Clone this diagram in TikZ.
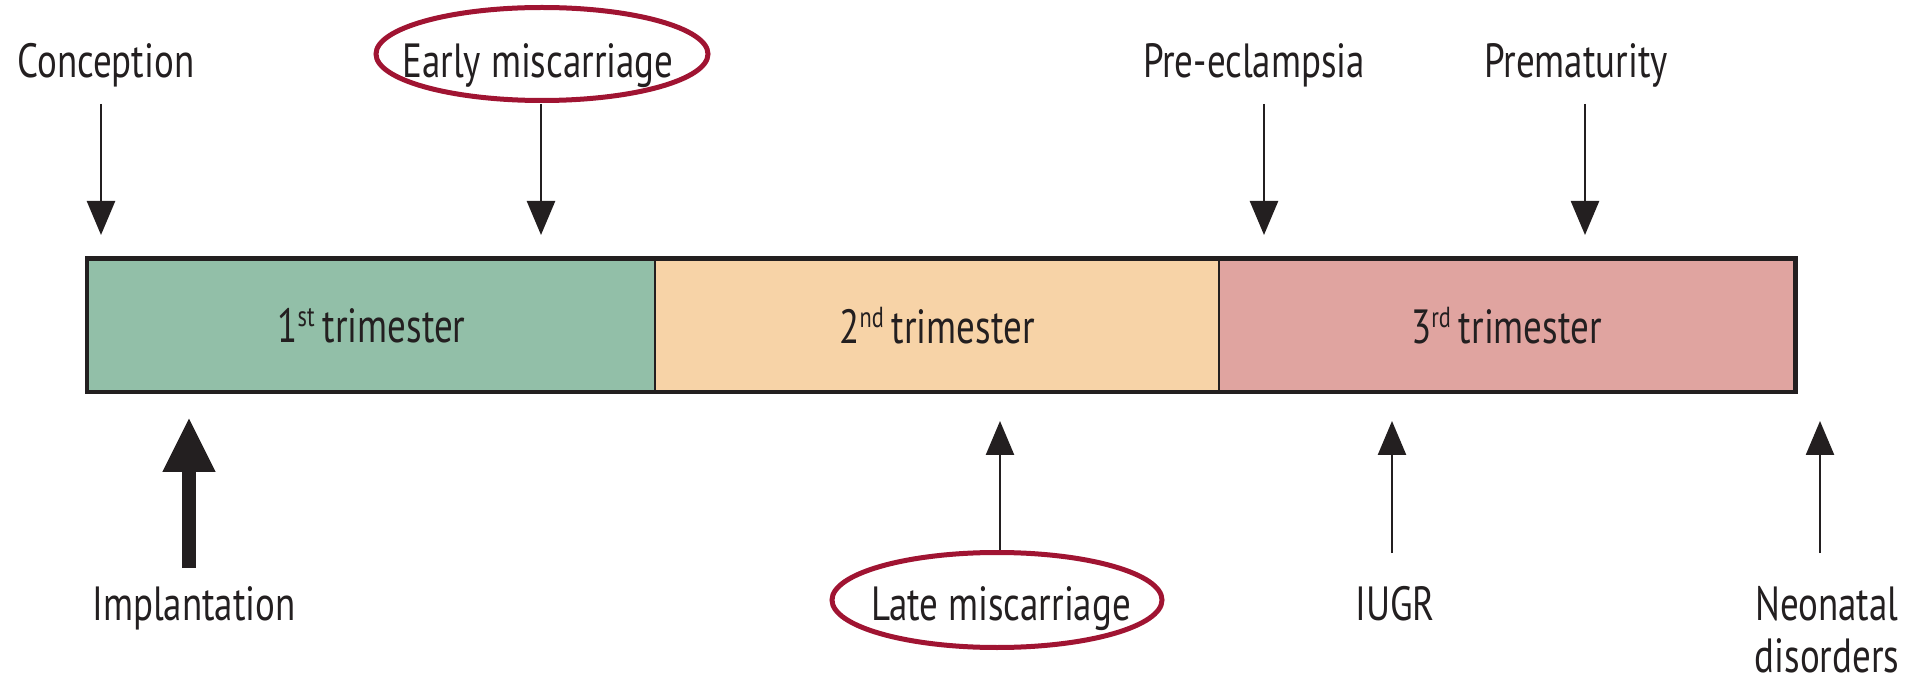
\documentclass[tikz,border=0pt]{standalone}
\usepackage{fontspec}
\setmainfont{PT Sans}[FakeStretch=0.77]
\usetikzlibrary{arrows.meta,shapes.geometric}
\definecolor{inkc}{HTML}{231F20}
\definecolor{firstc}{HTML}{92BFA8}
\definecolor{secondc}{HTML}{F7D3A7}
\definecolor{thirdc}{HTML}{E0A4A0}
\definecolor{ringc}{HTML}{A01432}
% ordinal suffix, raised close to cap height
\newcommand{\ordsuf}[1]{\raisebox{16pt}{\fontsize{29}{29}\selectfont #1}}
\tikzset{
  lbl/.style={inner sep=0pt, anchor=base, text=inkc, font=\fontsize{48}{54}\selectfont},
  phase/.style={draw=inkc, line width=2.5pt, inner sep=0pt, minimum height=131pt,
    text=inkc, font=\fontsize{48}{54}\selectfont},
  ring/.style={ellipse, draw=ringc, line width=5pt, inner sep=0pt},
  thinarrow/.style={draw=inkc, line width=2.5pt, -{Triangle[length=34pt,width=28pt]}},
  thickarrow/.style={draw=inkc, line width=14pt, -{Triangle[length=55pt,width=49pt]}}
}
\begin{document}
\begin{tikzpicture}[x=1pt,y=-1pt]
\useasboundingbox (0,0) rectangle (1915,684);

% the three trimesters
\node[phase, fill=firstc,  minimum width=567pt] (t1) at (371.5,325.5) {1\ordsuf{st}\,trimester};
\node[phase, fill=secondc, minimum width=564pt] (t2) at (937,325.5) {2\ordsuf{nd}\,trimester};
\node[phase, fill=thirdc,  minimum width=575pt] (t3) at (1506.5,325.5) {3\ordsuf{rd}\,trimester};
\draw[inkc, line width=4.5pt] (t1.north west) rectangle (t3.south east);

% events above the bar
\node[lbl] (conc) at (106,78) {Conception};
\node[lbl] (early) at (538,78) {Early miscarriage};
\node[lbl] (pre) at (1254,78) {Pre-eclampsia};
\node[lbl] (prem) at (1576,78) {Prematurity};
\node[ring, minimum width=332pt, minimum height=93pt] (ringA) at (542,54) {};

\coordinate (concA) at (101,104);  \coordinate (concB) at (101,235);
\coordinate (earlyA) at (541,104); \coordinate (earlyB) at (541,235);
\coordinate (preA) at (1264,104);  \coordinate (preB) at (1264,235);
\coordinate (premA) at (1585,104); \coordinate (premB) at (1585,235);
\draw[thinarrow] (concA) -- (concB);
\draw[thinarrow] (earlyA) -- (earlyB);
\draw[thinarrow] (preA) -- (preB);
\draw[thinarrow] (premA) -- (premB);

% events below the bar
\node[lbl] (impl) at (194,620) {Implantation};
\node[lbl] (late) at (1001,620) {Late miscarriage};
\node[lbl] (iugr) at (1395,620) {IUGR};
\node[lbl, align=center, font=\fontsize{48}{52}\selectfont] (neo) at (1827,672) {Neonatal\\disorders};
\node[ring, minimum width=330pt, minimum height=95pt] (ringB) at (997,600) {};

\coordinate (implA) at (189,568);  \coordinate (implB) at (189,417);
\coordinate (lateB) at (1000,421);
\coordinate (iugrA) at (1392,553); \coordinate (iugrB) at (1392,421);
\coordinate (neoA) at (1820,553);  \coordinate (neoB) at (1820,421);
\draw[thickarrow] (implA) -- (implB);
\draw[thinarrow] (ringB.north -| lateB) -- (lateB);
\draw[thinarrow] (iugrA) -- (iugrB);
\draw[thinarrow] (neoA) -- (neoB);
\end{tikzpicture}
\end{document}
